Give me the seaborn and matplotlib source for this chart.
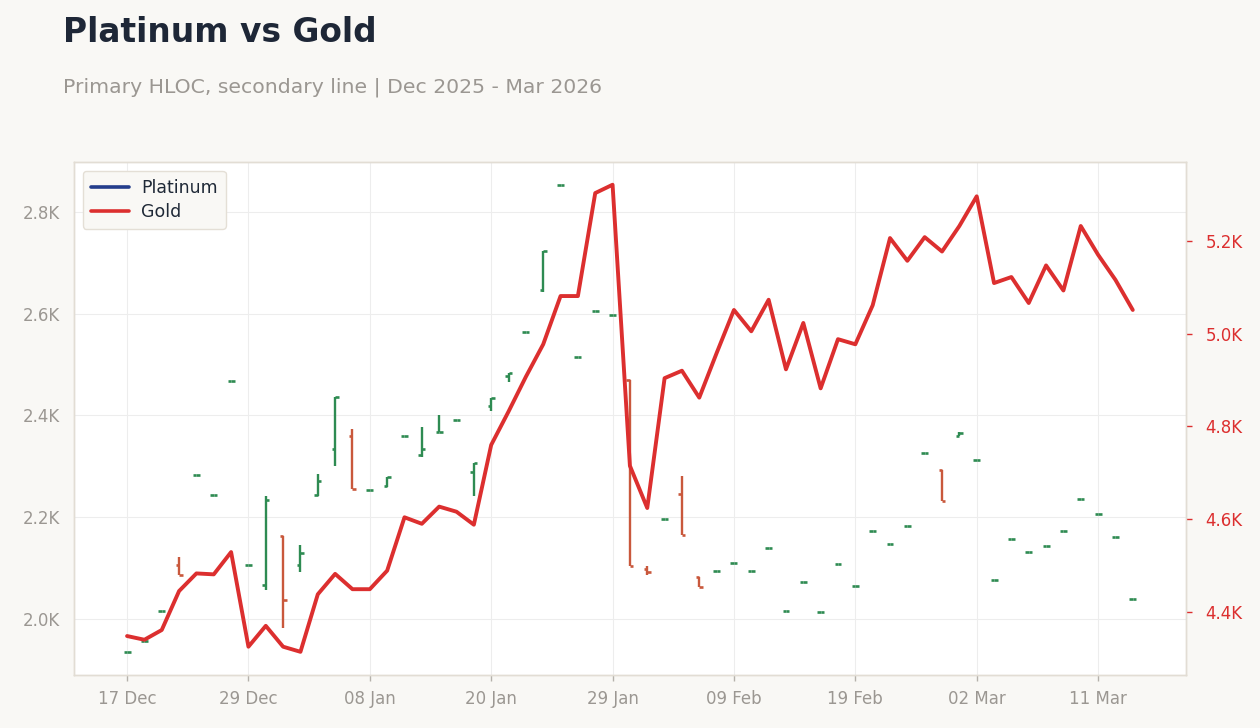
import matplotlib
matplotlib.use("Agg")
import numpy as np
import pandas as pd
import seaborn as sns
import matplotlib.pyplot as plt
from matplotlib.lines import Line2D
from matplotlib.ticker import FuncFormatter, FixedLocator

# ---------------- data ----------------
holidays = ["2025-12-25", "2026-01-01", "2026-01-19", "2026-02-16"]
dates = [d for d in pd.bdate_range("2025-12-17", "2026-03-13")
         if d.strftime("%Y-%m-%d") not in holidays]

plat_open = [1936, 1957, 2016, 2107, 2283, 2244, 2468, 2107, 2067, 2164,
             2107, 2244, 2334, 2360, 2254, 2261, 2360, 2322, 2368, 2391,
             2288, 2419, 2478, 2563, 2647, 2852, 2514, 2606, 2598, 2470,
             2099, 2197, 2246, 2083, 2095, 2111, 2095, 2140, 2016, 2073,
             2014, 2109, 2065, 2172, 2148, 2183, 2327, 2293, 2360, 2313,
             2077, 2158, 2132, 2144, 2172, 2236, 2207, 2162, 2039]
plat_high = [1936, 1957, 2016, 2121, 2283, 2244, 2468, 2107, 2242, 2164,
             2145, 2284, 2436, 2373, 2254, 2280, 2360, 2377, 2401, 2391,
             2306, 2434, 2483, 2563, 2723, 2852, 2514, 2606, 2598, 2470,
             2105, 2197, 2282, 2083, 2095, 2111, 2095, 2140, 2016, 2073,
             2014, 2109, 2065, 2172, 2148, 2183, 2327, 2293, 2367, 2313,
             2077, 2158, 2132, 2144, 2172, 2236, 2207, 2162, 2039]
plat_low = [1936, 1957, 2016, 2086, 2283, 2244, 2468, 2107, 2058, 1982,
            2093, 2242, 2301, 2256, 2254, 2260, 2360, 2319, 2368, 2391,
            2242, 2409, 2466, 2563, 2642, 2852, 2514, 2606, 2598, 2105,
            2086, 2197, 2166, 2063, 2095, 2111, 2095, 2140, 2016, 2073,
            2014, 2109, 2065, 2172, 2148, 2183, 2327, 2232, 2360, 2313,
            2077, 2158, 2132, 2144, 2172, 2236, 2207, 2162, 2039]
plat_close = [1936, 1957, 2016, 2086, 2283, 2244, 2468, 2107, 2234, 2037,
              2129, 2272, 2436, 2256, 2254, 2280, 2360, 2334, 2368, 2391,
              2306, 2434, 2483, 2563, 2723, 2852, 2514, 2606, 2598, 2105,
              2093, 2197, 2166, 2063, 2095, 2111, 2095, 2140, 2016, 2073,
              2014, 2109, 2065, 2172, 2148, 2183, 2327, 2232, 2366, 2313,
              2077, 2158, 2132, 2144, 2172, 2236, 2207, 2162, 2039]
gold = [4348, 4340, 4361, 4445, 4483, 4481, 4529, 4325, 4370, 4325,
        4314, 4438, 4482, 4449, 4449, 4489, 4604, 4590, 4627, 4616,
        4588, 4760, 4832, 4907, 4977, 5081, 5081, 5303, 5321, 4715,
        4624, 4904, 4920, 4862, 4958, 5051, 5005, 5073, 4923, 5023,
        4882, 4988, 4977, 5061, 5206, 5157, 5208, 5177, 5232, 5296,
        5109, 5122, 5066, 5147, 5093, 5232, 5170, 5116, 5051]
left_ticks = [2000, 2200, 2400, 2600, 2800]
right_ticks = [4400, 4600, 4800, 5000, 5200]

# ---------------- style ----------------
sns.set_theme(style="whitegrid")
plt.rcParams['font.family'] = ['DejaVu Sans']

BG = "#f9f8f5"
GREEN = "#2e8b52"
DOWN = "#c9583c"
GOLD = "#dc2f2f"
PLAT = "#243d8c"
GRAY = "#9b9792"
SPINE = "#e2ddd4"

fig = plt.figure(figsize=(12.6, 7.28), dpi=100, facecolor=BG)
ax = fig.add_axes([74/1260, 1-675/728, (1186-74)/1260, (675-162)/728])
ax.set_facecolor("white")

df = pd.DataFrame({"date": dates, "open": plat_open, "high": plat_high,
                   "low": plat_low, "close": plat_close, "gold": gold})
df["x"] = np.arange(len(df))
up = df["close"] >= df["open"]
cols = np.where(up, GREEN, DOWN)
tick_w = 0.2

ax.vlines(df["x"], df["low"], df["high"], colors=cols, linewidth=1.7, zorder=3)
ax.hlines(df["open"], df["x"] - tick_w, df["x"], colors=cols, linewidth=1.9, zorder=3)
ax.hlines(df["close"], df["x"], df["x"] + tick_w, colors=cols, linewidth=1.9, zorder=3)

ax.set_xlim(-3.06, 61.07)
ax.set_ylim(1890, 2898)
ax.yaxis.set_major_locator(FixedLocator(left_ticks))
ax.yaxis.set_major_formatter(FuncFormatter(lambda v, p: f"{v/1000:.1f}K"))
xt = list(range(0, len(df), 7))
ax.set_xticks(xt)
ax.set_xticklabels([df["date"][i].strftime("%d %b") for i in xt])
ax.grid(True, color="#ededed", linewidth=0.8)
ax.tick_params(axis="y", length=0, pad=10, labelsize=12, labelcolor=GRAY)
ax.tick_params(axis="x", length=4, width=1, color="#b5b1ab", pad=7,
               labelsize=12, labelcolor=GRAY, bottom=True)
for s in ax.spines.values():
    s.set_color(SPINE)
    s.set_linewidth(1)
ax.set_xlabel("")
ax.set_ylabel("")

ax2 = ax.twinx()
sns.lineplot(data=df, x="x", y="gold", ax=ax2, color=GOLD, linewidth=2.8,
             legend=False, zorder=4)
ax2.set_ylim(4264, 5370)
ax2.yaxis.set_major_locator(FixedLocator(right_ticks))
ax2.yaxis.set_major_formatter(FuncFormatter(lambda v, p: f"{v/1000:.1f}K"))
ax2.grid(False)
ax2.tick_params(axis="y", length=4, width=1, color=GOLD, pad=10,
                labelsize=12, labelcolor=GOLD, right=True)
for s in ax2.spines.values():
    s.set_color(SPINE)
    s.set_linewidth(1)
ax2.set_xlabel("")
ax2.set_ylabel("")

handles = [Line2D([0], [0], color=PLAT, linewidth=2.6),
           Line2D([0], [0], color=GOLD, linewidth=2.6)]
leg = ax2.legend(handles, ["Platinum", "Gold"], loc="upper left",
                 bbox_to_anchor=(9/1112, 1 - 9/513), borderaxespad=0,
                 fontsize=12.5, frameon=True, facecolor=BG, edgecolor="#e4dfd6",
                 handlelength=2.2, borderpad=0.45, labelspacing=0.35,
                 handletextpad=0.7, framealpha=1)
for t in leg.get_texts():
    t.set_color("#1f2937")

fig.text(63/1260, 1-41.7/728, "Platinum vs Gold", fontsize=23.7,
         fontweight="bold", color="#1e2737", va="baseline", ha="left")
fig.text(63/1260, 1-92.3/728, "Primary HLOC, secondary line | Dec 2025 - Mar 2026",
         fontsize=14.65, color="#9b9792", va="baseline", ha="left")

fig.savefig("out.png", dpi=100, facecolor=BG)
